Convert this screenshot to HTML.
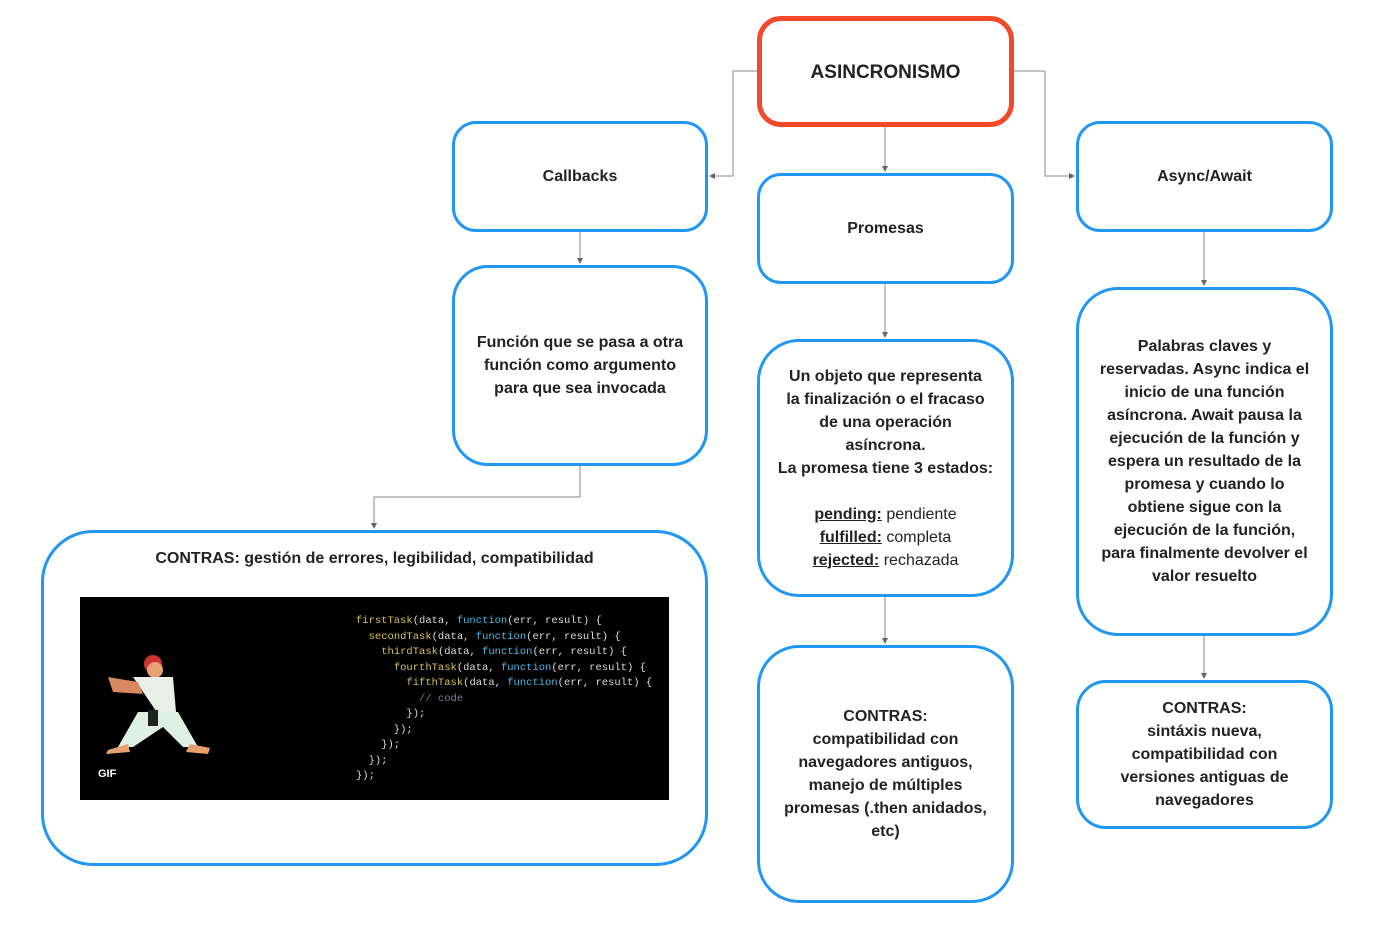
<!DOCTYPE html>
<html><head><meta charset="utf-8"><style>
body{margin:0;width:1392px;height:927px;background:#fff;position:relative;overflow:hidden;font-family:"Liberation Sans",sans-serif;}
.b{position:absolute;box-sizing:border-box;border:3.5px solid #2196f3;border-radius:24px;display:flex;align-items:center;justify-content:center;text-align:center;font-weight:bold;font-size:16px;line-height:23px;color:#222;background:#fff;}
.b>div{display:block;}
u{text-decoration:underline;}
pre{margin:0;font-family:"Liberation Mono",monospace;font-size:10.5px;line-height:15.5px;color:#ddd;}
.y{color:#d8c060}.c{color:#4db8e8}.g{color:#7080a0}
.n{font-weight:normal}
</style></head><body>
<svg width="1392" height="927" style="position:absolute;left:0;top:0" fill="none" stroke="#888" stroke-width="1">
<defs><marker id="a" markerWidth="6" markerHeight="6" refX="5" refY="3" orient="auto"><path d="M0,0L6,3L0,6z" fill="#666" stroke="none"/></marker></defs>
<path d="M757 71H733V176H710" marker-end="url(#a)"/>
<path d="M1014 71H1045V176H1074" marker-end="url(#a)"/>
<path d="M885 127V171" marker-end="url(#a)"/>
<path d="M580 232V263" marker-end="url(#a)"/>
<path d="M580 466V497H374V528" marker-end="url(#a)"/>
<path d="M885 284V337" marker-end="url(#a)"/>
<path d="M885 597V643" marker-end="url(#a)"/>
<path d="M1204 232V285" marker-end="url(#a)"/>
<path d="M1204 636V678" marker-end="url(#a)"/>
</svg>
<div class="b" style="left:757px;top:16px;width:257px;height:111px;border:5px solid #f04a2a;font-size:19px;padding-top:2px;"><div>ASINCRONISMO</div></div>
<div class="b" style="left:452px;top:121px;width:256px;height:111px;"><div>Callbacks</div></div>
<div class="b" style="left:757px;top:173px;width:257px;height:111px;"><div>Promesas</div></div>
<div class="b" style="left:1076px;top:121px;width:257px;height:111px;"><div>Async/Await</div></div>
<div class="b" style="left:452px;top:265px;width:256px;height:201px;border-radius:36px;padding-bottom:0px;"><div>Función que se pasa a otra<br>función como argumento<br>para que sea invocada</div></div>
<div class="b" style="left:757px;top:339px;width:257px;height:258px;border-radius:42px;"><div>Un objeto que representa<br>la finalización o el fracaso<br>de una operación<br>asíncrona.<br>La promesa tiene 3 estados:<br><br><u>pending:</u> <span class="n">pendiente</span><br><u>fulfilled:</u> <span class="n">completa</span><br><u>rejected:</u> <span class="n">rechazada</span></div></div>
<div class="b" style="left:1076px;top:287px;width:257px;height:349px;border-radius:42px;"><div>Palabras claves y<br>reservadas. Async indica el<br>inicio de una función<br>asíncrona. Await pausa la<br>ejecución de la función y<br>espera un resultado de la<br>promesa y cuando lo<br>obtiene sigue con la<br>ejecución de la función,<br>para finalmente devolver el<br>valor resuelto</div></div>
<div class="b" style="left:41px;top:530px;width:667px;height:336px;border-radius:52px;align-items:flex-start;padding-top:14px;"><div>CONTRAS: gestión de errores, legibilidad, compatibilidad</div></div>
<div class="b" style="left:757px;top:645px;width:257px;height:258px;border-radius:42px;"><div>CONTRAS:<br>compatibilidad con<br>navegadores antiguos,<br>manejo de múltiples<br>promesas (.then anidados,<br>etc)</div></div>
<div class="b" style="left:1076px;top:680px;width:257px;height:149px;border-radius:30px;"><div>CONTRAS:<br>sintáxis nueva,<br>compatibilidad con<br>versiones antiguas de<br>navegadores</div></div>
<div style="position:absolute;left:80px;top:597px;width:589px;height:203px;background:#000;">
<svg width="140" height="120" style="position:absolute;left:18px;top:55px">
<circle cx="55" cy="12" r="9" fill="#c33"/><circle cx="57" cy="18" r="8" fill="#e8a070"/>
<path d="M35 25L75 25L78 60L60 62Z" fill="#e8f0e8"/><path d="M10 25L40 30L45 42L15 40Z" fill="#d88860"/>
<path d="M40 60L80 60L100 95L85 95L65 75L35 95L20 95Z" fill="#dff0e4"/>
<rect x="50" y="58" width="10" height="16" fill="#222"/>
<path d="M10 98L30 92L32 100L8 102Z" fill="#e8a070"/><path d="M92 92L112 96L110 102L88 100Z" fill="#e8a070"/>
</svg>
<div style="position:absolute;left:18px;top:171px;color:#fff;font-weight:bold;font-size:11px;">GIF</div>
<pre style="position:absolute;left:276px;top:17px;"><span class="y">firstTask</span>(data, <span class="c">function</span>(err, result) {
  <span class="y">secondTask</span>(data, <span class="c">function</span>(err, result) {
    <span class="y">thirdTask</span>(data, <span class="c">function</span>(err, result) {
      <span class="y">fourthTask</span>(data, <span class="c">function</span>(err, result) {
        <span class="y">fifthTask</span>(data, <span class="c">function</span>(err, result) {
          <span class="g">// code</span>
        });
      });
    });
  });
});</pre>
</div>
</body></html>
